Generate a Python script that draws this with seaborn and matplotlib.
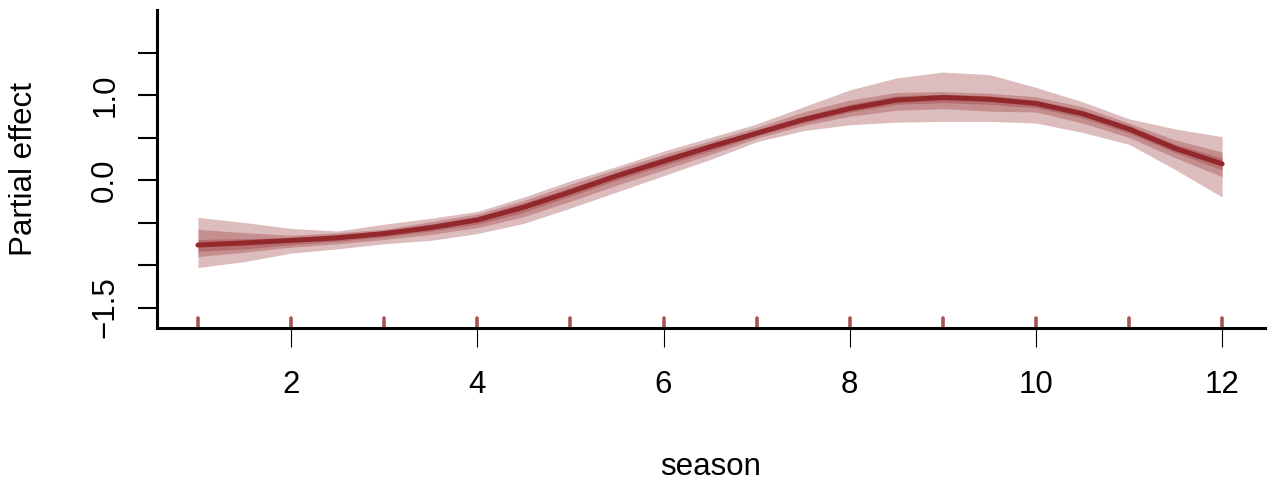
import seaborn as sns
import matplotlib.pyplot as plt
import pandas as pd

# =========================
# description: data
# =========================

season = [1.0, 1.5, 2.0, 2.5, 3.0, 3.5, 4.0, 4.5, 5.0, 5.5, 6.0, 6.5,
          7.0, 7.5, 8.0, 8.5, 9.0, 9.5, 10.0, 10.5, 11.0, 11.5, 12.0]

effect = [-0.765, -0.74, -0.71, -0.68, -0.63, -0.56, -0.47, -0.32, -0.14, 0.05, 0.22, 0.39,
          0.55, 0.71, 0.84, 0.94, 0.97, 0.95, 0.90, 0.78, 0.60, 0.37, 0.19]

# outer band
lo_95 = [-1.03, -0.96, -0.86, -0.81, -0.75, -0.71, -0.63, -0.51, -0.33, -0.14, 0.05, 0.24,
         0.45, 0.58, 0.65, 0.68, 0.69, 0.69, 0.67, 0.56, 0.42, 0.12, -0.20]
hi_95 = [-0.44, -0.50, -0.57, -0.60, -0.52, -0.45, -0.37, -0.20, -0.01, 0.16, 0.34, 0.50,
         0.66, 0.86, 1.06, 1.20, 1.27, 1.24, 1.09, 0.92, 0.72, 0.60, 0.51]

# middle band
lo_80 = [-0.90, -0.85, -0.79, -0.75, -0.70, -0.64, -0.56, -0.43, -0.25, -0.06, 0.12, 0.30,
         0.49, 0.64, 0.75, 0.82, 0.84, 0.81, 0.80, 0.67, 0.50, 0.26, 0.04]
hi_80 = [-0.58, -0.62, -0.65, -0.62, -0.58, -0.49, -0.40, -0.24, -0.05, 0.13, 0.30, 0.46,
         0.62, 0.80, 0.94, 1.03, 1.04, 1.02, 0.98, 0.86, 0.67, 0.47, 0.33]

# inner band
lo_50 = [-0.84, -0.81, -0.76, -0.72, -0.67, -0.60, -0.52, -0.38, -0.19, 0.00, 0.17, 0.34,
         0.52, 0.67, 0.80, 0.89, 0.91, 0.89, 0.85, 0.73, 0.55, 0.32, 0.12]
hi_50 = [-0.70, -0.69, -0.68, -0.64, -0.60, -0.52, -0.43, -0.27, -0.09, 0.09, 0.27, 0.43,
         0.58, 0.75, 0.89, 0.99, 1.01, 0.99, 0.94, 0.82, 0.64, 0.42, 0.26]

rug_x = [1, 2, 3, 4, 5, 6, 7, 8, 9, 10, 11, 12]

x_ticks = [2, 4, 6, 8, 10, 12]
y_ticks = [-1.5, -1.0, -0.5, 0.0, 0.5, 1.0, 1.5]
y_tick_labels = ["\u22121.5", "", "", "0.0", "", "1.0", ""]

# =========================
# description: plot
# =========================

sns.set_style("ticks", {"text.color": "black", "axes.labelcolor": "black",
                        "xtick.color": "black", "ytick.color": "black",
                        "axes.edgecolor": "black"})
plt.rcParams["font.family"] = ["Liberation Sans", "DejaVu Sans"]

df = pd.DataFrame({"season": season, "effect": effect})

line_col = "#92282b"

fig = plt.figure(figsize=(12.75, 4.83), dpi=100)
ax = fig.add_axes([157 / 1275, 1 - 328 / 483, (1265 - 157) / 1275, (328 - 10) / 483])

for lo, hi in [(lo_95, hi_95), (lo_80, hi_80), (lo_50, hi_50)]:
    ax.fill_between(season, lo, hi, color=line_col, alpha=0.31, lw=0)

sns.lineplot(data=df, x="season", y="effect", ax=ax, color=line_col,
             lw=3.6, solid_capstyle="round")

sns.rugplot(x=rug_x, ax=ax, height=0.03, color="#a65454", linewidth=2.6,
            capstyle="round", clip_on=False)

ax.set_xlim(0.56, 12.46)
ax.set_ylim(-1.741, 2.0)

ax.set_xticks(x_ticks)
ax.set_yticks(y_ticks)
ax.set_yticklabels(y_tick_labels, rotation=90, va="center")

ax.tick_params(axis="x", length=14, width=0.8, pad=16, labelsize=22.5, color="black",
               labelcolor="black")
ax.tick_params(axis="y", length=13.5, width=1.5, pad=13, labelsize=22.5, color="black",
               labelcolor="black")

for side in ["top", "right"]:
    ax.spines[side].set_visible(False)
for side in ["left", "bottom"]:
    ax.spines[side].set_linewidth(2.2)
    ax.spines[side].set_color("black")

ax.set_xlabel("season", fontsize=22.5, va="center", color="black")
ax.set_ylabel("Partial effect", fontsize=22.5, va="center", color="black")
ax.xaxis.set_label_coords(0.5, -0.437)
ax.yaxis.set_label_coords(-0.120, 0.5)

fig.savefig("out.png", dpi=100)
